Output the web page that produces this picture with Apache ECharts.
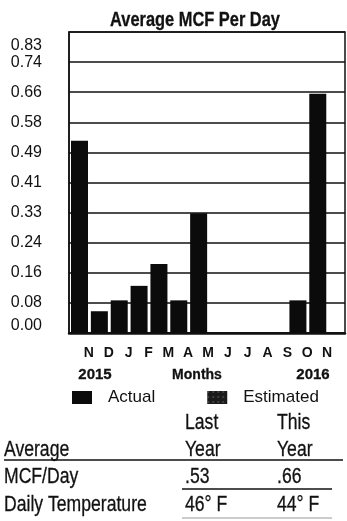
<!DOCTYPE html>
<html>
<head>
<meta charset="utf-8">
<script src="https://cdn.jsdelivr.net/npm/echarts@6/dist/echarts.min.js"></script>
<style>
  html, body { margin: 0; padding: 0; background: #fff; }
  #chart { width: 347px; height: 521px; }
</style>
</head>
<body>
<div id="chart"></div>
<script>
// Monthly usage, Nov 2015 through Nov 2016
var months = ['N', 'D', 'J', 'F', 'M', 'A', 'M', 'J', 'J', 'A', 'S', 'O', 'N'];
var actualMcf = [0.53, 0.06, 0.09, 0.13, 0.19, 0.09, 0.33, 0, 0, 0, 0, 0.09, 0.66];
var yTickLabels = ['0.00', '0.08', '0.16', '0.24', '0.33', '0.41', '0.49', '0.58', '0.66', '0.74', '0.83'];
var yearLabels = ['2015', 'Months', '2016'];
var legendNames = ['Actual', 'Estimated'];
var chartTitle = 'Average MCF Per Day';
var tableHead = ['Average', 'Last', 'This', 'Year', 'Year'];
var tableRows = [
  ['MCF/Day', '.53', '.66'],
  ['Daily Temperature', '46\u00B0 F', '44\u00B0 F']
];

var SANS = '"Liberation Sans", Arial, sans-serif';
var INK = '#111';

var chart = echarts.init(document.getElementById('chart'), null, { renderer: 'canvas' });

// Text squeezed horizontally to get the narrow typeface look
function txt(x, y, text, size, weight, align, squeeze) {
  return {
    type: 'text', x: x, y: y, silent: true,
    scaleX: squeeze || 0.8, originX: 0, originY: 0,
    style: {
      text: text, fill: INK, fontFamily: SANS, fontSize: size,
      fontWeight: weight || 'normal', align: align || 'left', verticalAlign: 'middle',
      stroke: INK, lineWidth: 0.3
    }
  };
}
function hline(x1, x2, y, w, color) {
  return {
    type: 'line', silent: true,
    shape: { x1: x1, y1: y, x2: x2, y2: y },
    style: { stroke: color || INK, lineWidth: w || 1.5 }
  };
}

var graphics = [
  txt(195, 20, chartTitle, 20, 'bold', 'center', 0.82),
  txt(95, 375, yearLabels[0], 15, 'bold', 'center', 1),
  txt(197, 375, yearLabels[1], 14, 'bold', 'center', 1),
  txt(313, 375, yearLabels[2], 15, 'bold', 'center', 1),
  txt(185, 423, tableHead[1], 22),
  txt(277, 423, tableHead[2], 22),
  txt(4, 450, tableHead[0], 22),
  txt(185, 450, tableHead[3], 22),
  txt(277, 450, tableHead[4], 22),
  hline(4, 343, 460, 1.5),
  txt(4, 477, tableRows[0][0], 22),
  txt(185, 477, tableRows[0][1], 22),
  txt(277, 477, tableRows[0][2], 22),
  hline(182, 332, 489, 1.5),
  txt(4, 505, tableRows[1][0], 22),
  txt(185, 505, tableRows[1][1], 22),
  txt(277, 505, tableRows[1][2], 22),
  hline(182, 332, 518, 1, '#999')
];

var option = {
  backgroundColor: '#fff',
  animation: false,
  legend: {
    data: legendNames,
    left: 72, top: 389, padding: 0,
    itemWidth: 20, itemHeight: 13, itemGap: 52,
    icon: 'rect',
    textStyle: { fontFamily: SANS, fontSize: 17, color: INK, padding: [0, 0, 0, 11] }
  },
  grid: {
    left: 69, right: 2, top: 32, bottom: 188,
    show: true, borderColor: INK, borderWidth: 1.5
  },
  xAxis: {
    type: 'value', min: -1, max: 12.9, interval: 1,
    splitLine: { show: false },
    axisTick: { show: false },
    axisLine: { show: true, onZero: false, lineStyle: { color: INK, width: 2.5 } },
    axisLabel: {
      margin: 13, showMaxLabel: false,
      fontFamily: SANS, fontSize: 14, fontWeight: 'bold', color: INK,
      formatter: function (v) { return months[v] || ''; }
    }
  },
  yAxis: {
    type: 'value', min: 0, max: 0.83, interval: 0.083,
    axisLine: { show: true, onZero: false, lineStyle: { color: INK, width: 1.5 } },
    axisTick: { show: false },
    splitLine: { show: true, lineStyle: { color: INK, width: 1.5 } },
    axisLabel: {
      margin: 27, align: 'right',
      fontFamily: SANS, fontSize: 16, color: INK,
      formatter: function (v, i) {
        var s = yTickLabels[i];
        if (i === 0) return '{low|' + s + '}';
        if (i === yTickLabels.length - 1) return '{high|' + s + '}';
        return s;
      },
      rich: {
        low: { fontFamily: SANS, fontSize: 16, color: INK, padding: [0, 0, 14, 0] },
        high: { fontFamily: SANS, fontSize: 16, color: INK, padding: [28, 0, 0, 0] }
      }
    }
  },
  series: [
    {
      name: legendNames[0], type: 'bar', barWidth: 17, z: 3,
      itemStyle: { color: '#0b0b0b' },
      data: actualMcf.map(function (v, i) { return [i, v]; })
    },
    {
      name: legendNames[1], type: 'bar', barWidth: 17,
      itemStyle: {
        color: '#1a1a1a',
        decal: { symbol: 'rect', symbolSize: 0.6, dashArrayX: [2, 3], dashArrayY: [2, 3], color: 'rgba(255,255,255,0.55)', rotation: 0 }
      },
      data: []
    }
  ],
  graphic: graphics
};

chart.setOption(option);
</script>
</body>
</html>
